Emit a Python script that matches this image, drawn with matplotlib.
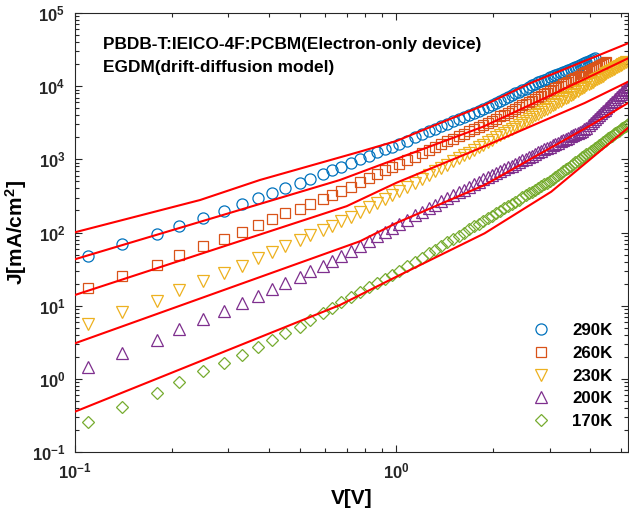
import math
import matplotlib
matplotlib.use("Agg")
import matplotlib.pyplot as plt
from matplotlib.ticker import LogLocator, FixedLocator, FuncFormatter, NullFormatter

plt.rcParams['font.family'] = ['Liberation Sans', 'DejaVu Sans']
plt.rcParams['font.weight'] = 'bold'
plt.rcParams['mathtext.fontset'] = 'custom'
plt.rcParams['mathtext.rm'] = 'Liberation Sans:bold'
plt.rcParams['mathtext.bf'] = 'Liberation Sans:bold'
plt.rcParams['mathtext.default'] = 'rm'

# measured data: voltage grid shared by all temperatures
volt = [0.11, 0.14, 0.18, 0.21, 0.25, 0.29, 0.33, 0.37, 0.41, 0.45,
        0.50, 0.54, 0.59, 0.63, 0.67, 0.72, 0.77, 0.82, 0.87, 0.92,
        0.97, 1.02, 1.08, 1.14, 1.20, 1.26, 1.32, 1.38, 1.44, 1.50,
        1.56, 1.62, 1.68, 1.74, 1.80, 1.86, 1.92, 1.98, 2.04, 2.10,
        2.16, 2.22, 2.28, 2.34, 2.40, 2.46, 2.52, 2.58, 2.64, 2.70,
        2.76, 2.82, 2.88, 2.94, 3.00, 3.06, 3.12, 3.18, 3.24, 3.30,
        3.36, 3.42, 3.48, 3.54, 3.60, 3.66, 3.72, 3.78, 3.84, 3.90,
        3.96, 4.02, 4.08, 4.14, 4.20, 4.26, 4.32, 4.38, 4.44, 4.50,
        4.56, 4.62, 4.68, 4.74, 4.80, 4.86, 4.92, 4.98, 5.04, 5.10,
        5.16, 5.22, 5.28]

j290 = [47.8, 69.7, 94.4, 124, 160, 197, 245, 293, 350, 402,
        470, 546, 637, 714, 795, 900, 1009, 1122, 1240, 1364,
        1492, 1629, 1808, 1999, 2197, 2403, 2616, 2840, 3071, 3311,
        3557, 3813, 4076, 4347, 4631, 4918, 5245, 5592, 5951, 6324,
        6714, 7112, 7516, 7943, 8375, 8817, 9276, 9747, 10230, 10720,
        11230, 11720, 12190, 12680, 13160, 13660, 14170, 14690, 15210, 15740,
        16280, 16830, 17390, 17960, 18530, 19120, 19710, 20310, 20920, 21540,
        22170, 22800, 23440, 24090]

j260 = [17.6, 25.7, 36.3, 49.8, 64.7, 82.2, 103, 127, 151, 183,
        212, 248, 284, 326, 369, 423, 486, 554, 627, 704,
        786, 872, 979, 1093, 1213, 1339, 1472, 1611, 1758, 1909,
        2070, 2233, 2404, 2582, 2767, 2958, 3165, 3387, 3614, 3853,
        4098, 4352, 4610, 4884, 5164, 5448, 5746, 6050, 6363, 6683,
        7010, 7362, 7730, 8104, 8494, 8892, 9304, 9720, 10150, 10590,
        11040, 11500, 11980, 12460, 12960, 13460, 13970, 14510, 15040, 15600,
        16160, 16730, 17310, 17910, 18500, 19130, 19760, 20400, 21040, 21720]

j230 = [5.56, 8.11, 11.7, 16.4, 21.9, 28.2, 35.2, 44.4, 54.7, 65.5,
        79.1, 92.5, 108, 124, 144, 164, 192, 222, 254, 289,
        327, 367, 422, 481, 545, 614, 687, 766, 849, 938,
        1031, 1130, 1234, 1343, 1459, 1581, 1710, 1849, 1990, 2138,
        2294, 2456, 2624, 2800, 2981, 3170, 3368, 3570, 3783, 4001,
        4223, 4457, 4695, 4940, 5196, 5459, 5734, 6006, 6295, 6591,
        6890, 7211, 7551, 7907, 8260, 8635, 9020, 9413, 9817, 10230,
        10660, 11090, 11540, 12000, 12470, 12950, 13450, 13950, 14470, 14990,
        15540, 16080, 16650, 17230, 17810, 18410, 19040, 19650, 20290, 20950,
        21610]

j200 = [1.47, 2.28, 3.40, 4.80, 6.52, 8.45, 10.8, 13.6, 16.7, 20.6,
        24.4, 30.1, 35.2, 40.7, 47.3, 55.3, 65.5, 76.6, 88.9, 102,
        117, 132, 150, 171, 192, 215, 240, 266, 293, 322,
        353, 385, 419, 454, 492, 531, 569, 608, 648, 690,
        733, 777, 822, 869, 918, 968, 1020, 1072, 1127, 1183,
        1241, 1301, 1363, 1426, 1490, 1556, 1624, 1693, 1763, 1836,
        1909, 1985, 2063, 2142, 2222, 2303, 2387, 2472, 2559, 2723,
        2910, 3105, 3313, 3530, 3755, 3993, 4245, 4508, 4783, 5067,
        5370, 5679, 6006, 6353, 6702, 7074, 7465, 7866, 8284, 8730,
        9180, 9660, 10140]

j170 = [0.259, 0.416, 0.634, 0.906, 1.28, 1.66, 2.12, 2.75, 3.40, 4.28,
        5.16, 6.37, 7.87, 9.38, 11.2, 13.3, 15.5, 17.9, 20.5, 23.3,
        26.3, 29.7, 34.5, 39.8, 45.5, 51.8, 58.5, 65.8, 73.6, 81.8,
        90.8, 100, 110, 121, 132, 144, 157, 170, 184, 199,
        214, 230, 247, 264, 282, 301, 321, 342, 363, 385,
        408, 432, 457, 482, 508, 538, 574, 610, 647, 687,
        728, 770, 815, 861, 908, 957, 1008, 1062, 1116, 1174,
        1233, 1294, 1357, 1421, 1488, 1558, 1629, 1703, 1779, 1857,
        1938, 2020, 2106, 2195, 2284, 2377, 2474, 2570, 2672, 2775,
        2880, 2990, 3100]

# EGDM drift-diffusion fits
fit290_v = [0.1, 0.245, 0.376, 0.769, 1.0, 1.21, 1.88, 2.60, 5.25]
fit290_j = [100.7, 278, 522, 1271, 1782, 2518, 5534, 10940, 38550]
fit260_v = [0.1, 0.667, 1.0, 1.86, 3.03, 5.25]
fit260_j = [43.1, 522, 1014, 2793, 7568, 23990]
fit230_v = [0.1, 0.7, 1.0, 1.86, 3.85, 5.25]
fit230_j = [14.0, 229, 479, 1479, 5888, 11480]
fit200_v = [0.1, 0.77, 1.0, 1.88, 4.03, 5.25]
fit200_j = [3.06, 75.9, 135, 446, 2944, 5888]
fit170_v = [0.1, 0.667, 1.0, 1.88, 3.03, 5.25]
fit170_j = [0.356, 10.2, 24.9, 97.5, 361, 2692]

labels = ['290K', '260K', '230K', '200K', '170K']
colors = ['#0072BD', '#D95319', '#EDB120', '#7E2F8E', '#77AC30']
markers = ['o', 's', 'v', '^', 'D']
msizes = [8, 6.5, 8, 8, 6]

xticks = [0.1, 1]
yticks = [0.1, 1, 10, 100, 1000, 10000, 100000]

fig = plt.figure(figsize=(6.29, 5.15), dpi=100)
ax = fig.add_axes([75 / 629, 1 - 452 / 515, 553 / 629, 439 / 515])

data = [j290, j260, j230, j200, j170]
for jj, lab, c, m, ms in zip(data, labels, colors, markers, msizes):
    ax.plot(volt[:len(jj)], jj, ls='none', marker=m, ms=ms, mfc='none',
            mec=c, mew=0.9, label=lab, zorder=2)

fits = [(fit290_v, fit290_j), (fit260_v, fit260_j), (fit230_v, fit230_j),
        (fit200_v, fit200_j), (fit170_v, fit170_j)]
for fv, fj in fits:
    ax.plot(fv, fj, color='red', lw=1.5, zorder=3)

ax.set_xscale('log')
ax.set_yscale('log')
ax.set_xlim(0.1, 5.25)
ax.set_ylim(0.1, 1e5)


def fmt(val, pos):
    return r'$10^{%d}$' % int(round(math.log10(val)))


ax.xaxis.set_major_locator(FixedLocator(xticks))
ax.yaxis.set_major_locator(FixedLocator(yticks))
ax.xaxis.set_minor_locator(LogLocator(base=10, subs=range(2, 10), numticks=20))
ax.yaxis.set_minor_locator(LogLocator(base=10, subs=range(2, 10), numticks=20))
ax.xaxis.set_major_formatter(FuncFormatter(fmt))
ax.yaxis.set_major_formatter(FuncFormatter(fmt))
ax.xaxis.set_minor_formatter(NullFormatter())
ax.yaxis.set_minor_formatter(NullFormatter())

for s in ax.spines.values():
    s.set_color('#262626')
    s.set_linewidth(0.8)
ax.tick_params(which='both', direction='in', top=True, right=True,
               colors='#262626', labelsize=12, width=0.8)
ax.tick_params(which='major', length=5, pad=7)
ax.tick_params(which='minor', length=3)

ax.set_xlabel('V[V]', fontsize=15, fontweight='bold', labelpad=5)
ax.set_ylabel(r'J[mA/cm$^{2}$]', fontsize=15, fontweight='bold', labelpad=2)

ax.text(0.05, 0.929, 'PBDB-T:IEICO-4F:PCBM(Electron-only device)',
        transform=ax.transAxes, fontsize=12.4, fontweight='bold', va='center')
ax.text(0.05, 0.875, 'EGDM(drift-diffusion model)',
        transform=ax.transAxes, fontsize=12.4, fontweight='bold', va='center')

ax.legend(loc='upper left', bbox_to_anchor=(533 / 629, 1 - 323 / 515),
          bbox_transform=fig.transFigure, frameon=False, fontsize=12.2,
          handlelength=1.0, handletextpad=1.3, labelspacing=0.46,
          borderpad=0, borderaxespad=0)

fig.savefig('out.png', dpi=100)
